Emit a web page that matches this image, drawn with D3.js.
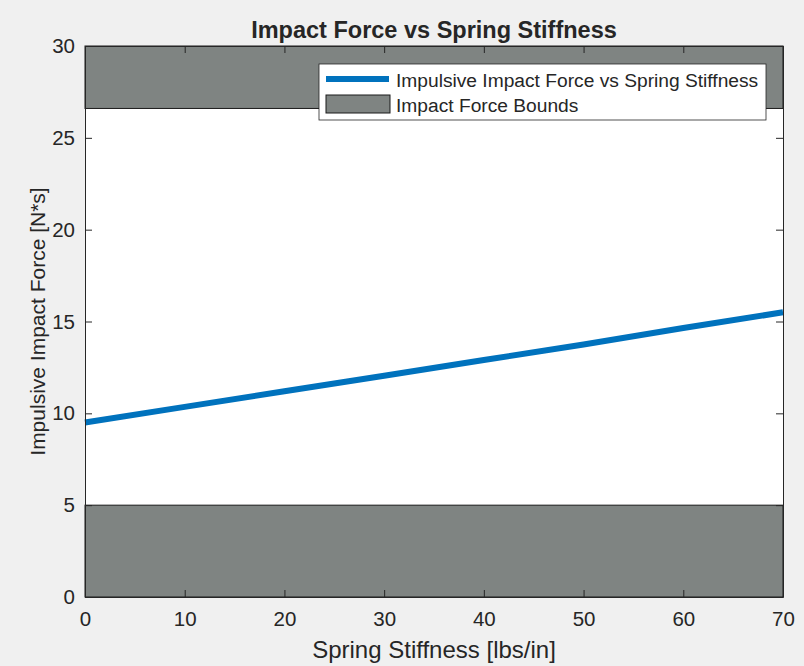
<!DOCTYPE html>
<html lang="en">
<head>
<meta charset="UTF-8">
<title>Impact Force vs Spring Stiffness</title>
<script src="https://cdn.jsdelivr.net/npm/d3@7"></script>
<style>
  body { margin: 0; background: #f0f0f0; }
  text { font-family: "Liberation Sans", Arial, sans-serif; fill: #262626; }
  .tick text { font-size: 20.5px; }
  .tick line { stroke: #262626; }
  path.domain { stroke: #262626; }
</style>
</head>
<body>
<div id="main"></div>
<script>
// data
var stiffness = [0, 10, 20, 30, 40, 50, 60, 70];
var impulse   = [9.5, 10.35, 11.2, 12.05, 12.9, 13.75, 14.65, 15.5];
var lowerBound = [0, 5];
var upperBound = [26.6, 30];
var xTicks = [0, 10, 20, 30, 40, 50, 60, 70];
var yTicks = [0, 5, 10, 15, 20, 25, 30];

var width = 804, height = 666,
    margin = {left: 85, top: 46, right: 21, bottom: 69};

var svg = d3.select("#main").append("svg")
    .attr("width", width)
    .attr("height", height);

svg.append("rect")
    .attr("width", width).attr("height", height)
    .attr("fill", "#f0f0f0");

var x = d3.scaleLinear().domain([0, 70]).range([margin.left, width - margin.right]);
var y = d3.scaleLinear().domain([0, 30]).range([height - margin.bottom, margin.top]);

// plot background
svg.append("rect")
    .attr("x", x(0)).attr("y", y(30))
    .attr("width", x(70) - x(0)).attr("height", y(0) - y(30))
    .attr("fill", "#fff");

// bounds
var bandColor = "#7f8482";
[lowerBound, upperBound].forEach(function(b){
  svg.append("rect")
      .attr("x", x(0)).attr("y", y(b[1]))
      .attr("width", x(70) - x(0)).attr("height", y(b[0]) - y(b[1]))
      .attr("fill", bandColor)
      .attr("stroke", "#1a1a1a")
      .attr("stroke-width", 1);
});

// line
svg.append("path")
    .datum(stiffness.map(function(d, i){ return [d, impulse[i]]; }))
    .attr("fill", "none")
    .attr("stroke", "#0072bd")
    .attr("stroke-width", 6)
    .attr("d", d3.line().x(function(d){ return x(d[0]); }).y(function(d){ return y(d[1]); }));

// axes (MATLAB style: inward ticks, box)
var tickLen = 7;
svg.append("g")
    .attr("transform", "translate(0," + y(0) + ")")
    .call(d3.axisBottom(x).tickValues(xTicks).tickSizeInner(-tickLen).tickSizeOuter(0).tickPadding(14));
svg.append("g")
    .attr("transform", "translate(0," + y(30) + ")")
    .call(d3.axisTop(x).tickValues(xTicks).tickSizeInner(-tickLen).tickSizeOuter(0).tickFormat(""));
svg.append("g")
    .attr("transform", "translate(" + x(0) + ",0)")
    .call(d3.axisLeft(y).tickValues(yTicks).tickSizeInner(-tickLen).tickSizeOuter(0).tickPadding(10));
svg.append("g")
    .attr("transform", "translate(" + x(70) + ",0)")
    .call(d3.axisRight(y).tickValues(yTicks).tickSizeInner(-tickLen).tickSizeOuter(0).tickFormat(""));

svg.selectAll(".tick text").attr("fill", "#262626");

// labels
svg.append("text")
    .attr("x", (x(0) + x(70)) / 2).attr("y", 38)
    .attr("text-anchor", "middle")
    .style("font-size", "23.5px").style("font-weight", "bold")
    .attr("fill", "#000")
    .text("Impact Force vs Spring Stiffness");

svg.append("text")
    .attr("x", (x(0) + x(70)) / 2).attr("y", 658)
    .attr("text-anchor", "middle")
    .style("font-size", "24px")
    .text("Spring Stiffness [lbs/in]");

svg.append("text")
    .attr("transform", "translate(45," + ((y(0) + y(30)) / 2) + ") rotate(-90)")
    .attr("text-anchor", "middle")
    .style("font-size", "21px")
    .text("Impulsive Impact Force [N*s]");

// legend
var lg = svg.append("g").attr("transform", "translate(319,64)");
lg.append("rect")
    .attr("width", 447).attr("height", 56)
    .attr("fill", "#fff").attr("stroke", "#262626").attr("stroke-width", 0.8);
lg.append("line")
    .attr("x1", 7).attr("x2", 70).attr("y1", 15).attr("y2", 15)
    .attr("stroke", "#0072bd").attr("stroke-width", 6);
lg.append("rect")
    .attr("x", 7).attr("y", 31).attr("width", 64).attr("height", 18)
    .attr("fill", bandColor).attr("stroke", "#1a1a1a");
lg.append("text").attr("x", 77).attr("y", 23).style("font-size", "19.2px").text("Impulsive Impact Force vs Spring Stiffness");
lg.append("text").attr("x", 77).attr("y", 48).style("font-size", "19.2px").text("Impact Force Bounds");
</script>
</body>
</html>
